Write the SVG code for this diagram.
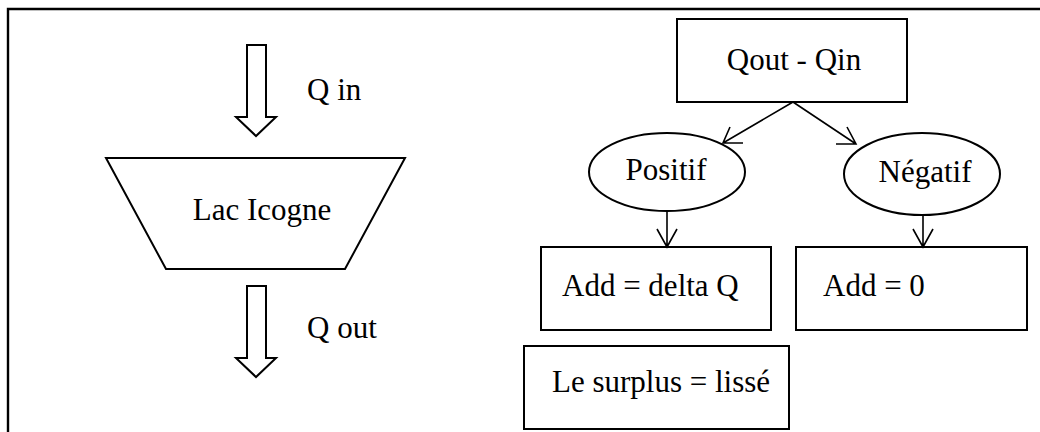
<svg xmlns="http://www.w3.org/2000/svg" width="1040" height="432" viewBox="0 0 1040 432">
<style>
.s{fill:#fff;stroke:#000;stroke-width:2}
.l{fill:none;stroke:#000;stroke-width:1.6}
text{font-family:"Liberation Serif","Times New Roman",serif;font-size:31px;fill:#000}
</style>
<rect width="1040" height="432" fill="#fff"/>
<path d="M8,432 V9 H1040" fill="none" stroke="#000" stroke-width="2.4"/>
<g id="arrow-in"><path class="s" d="M247,45 H266 V117 H276 L256,136 L236,117 H247 Z"/></g>
<g id="label-qin"><text x="307" y="100">Q in</text></g>
<g id="lac"><path class="s" d="M106,158 H405 L345,269 H166 Z"/><text x="262" y="220" text-anchor="middle">Lac Icogne</text></g>
<g id="arrow-out"><path class="s" d="M247,286 H266 V358 H276 L256,377 L236,358 H247 Z"/></g>
<g id="label-qout"><text x="307" y="338">Q out</text></g>
<g id="diff"><rect class="s" x="677" y="19" width="230" height="83"/><text x="794" y="70" text-anchor="middle">Qout - Qin</text></g>
<g id="positif"><ellipse class="s" cx="667" cy="172" rx="78" ry="39"/><text x="666" y="180" text-anchor="middle">Positif</text></g>
<g id="negatif"><ellipse class="s" cx="922" cy="174" rx="78" ry="41"/><text x="925" y="182" text-anchor="middle">Négatif</text></g>
<g id="add-delta"><rect class="s" x="541" y="247" width="230" height="83"/><text x="562" y="296">Add = delta Q</text></g>
<g id="add-zero"><rect class="s" x="796" y="247" width="231" height="83"/><text x="823" y="296">Add = 0</text></g>
<g id="surplus"><rect class="s" x="524" y="346" width="265" height="83"/><text x="552" y="392">Le surplus = lissé</text></g>
<g id="connectors">
<path class="l" d="M793,102 L723,143 M743,143 H723 L730,127"/>
<path class="l" d="M793,102 L856,144 M836,144 H856 L847,127"/>
<path class="l" d="M667,211 V247 M657,229 L667,247 L677,229"/>
<path class="l" d="M923,215 V247 M913,229 L923,247 L933,229"/>
</g>
</svg>
